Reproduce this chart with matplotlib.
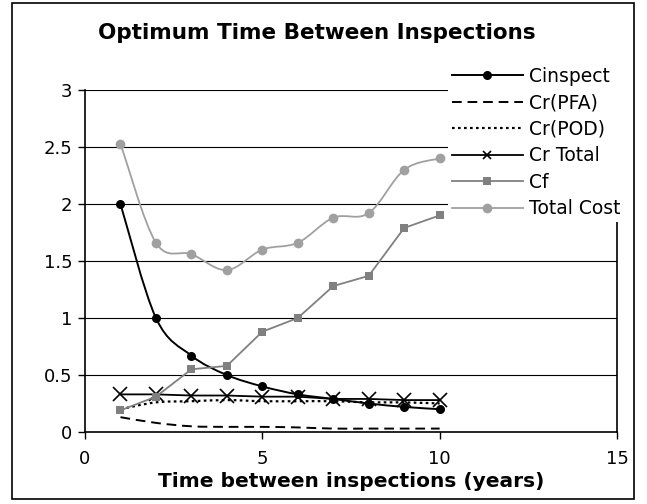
import matplotlib
matplotlib.use("Agg")
import matplotlib.pyplot as plt
import numpy as np
from matplotlib.path import Path
from matplotlib.patches import PathPatch, Rectangle
from matplotlib.lines import Line2D

# values
years = [1, 2, 3, 4, 5, 6, 7, 8, 9, 10]
c_inspect = [2.0, 1.0, 0.67, 0.5, 0.4, 0.33, 0.29, 0.25, 0.22, 0.2]
cr_pfa = [0.13, 0.08, 0.05, 0.045, 0.045, 0.04, 0.03, 0.03, 0.03, 0.03]
cr_pod = [0.2, 0.26, 0.27, 0.28, 0.27, 0.27, 0.27, 0.26, 0.26, 0.25]
cr_total = [0.33, 0.33, 0.32, 0.32, 0.31, 0.31, 0.29, 0.29, 0.28, 0.28]
c_f = [0.19, 0.31, 0.55, 0.58, 0.88, 1.0, 1.28, 1.37, 1.79, 1.9]
total_cost = [2.53, 1.66, 1.56, 1.42, 1.6, 1.66, 1.88, 1.92, 2.3, 2.4]

FONT = "DejaVu Sans"


def smooth_path(x, y, smooth=True):
    # Excel-style smoothed line: cubic bezier through the points
    pts = np.column_stack([x, y]).astype(float)
    if not smooth:
        return Path(pts)
    ext = np.vstack([pts[0], pts, pts[-1]])
    verts = [pts[0]]
    codes = [Path.MOVETO]
    for i in range(len(pts) - 1):
        p0, p1, p2, p3 = ext[i], ext[i + 1], ext[i + 2], ext[i + 3]
        verts += [p1 + (p2 - p0) / 6.0, p2 - (p3 - p1) / 6.0, p2]
        codes += [Path.CURVE4] * 3
    return Path(verts, codes)


fig = plt.figure(figsize=(6.47, 5.04), dpi=100)
ax = fig.add_axes([85 / 647, 72 / 504, 532 / 647, 342 / 504])

# name, values, smoothed, style, legend marker size
series = [
    ("Cinspect", c_inspect, True, dict(color="black", ls="-", lw=1.4, marker="o", ms=6.5, mew=0), 6.5),
    ("Cr(PFA)", cr_pfa, True, dict(color="black", ls=(0, (5, 3)), lw=1.4, marker=None, ms=0, mew=0), 0),
    ("Cr(POD)", cr_pod, True, dict(color="black", ls=(0, (1.2, 1.5)), lw=1.6, marker=None, ms=0, mew=0), 0),
    ("Cr Total", cr_total, False, dict(color="black", ls="-", lw=1.3, marker="x", ms=10, mew=1.2), 6),
    ("Cf", c_f, False, dict(color="#808080", ls="-", lw=1.3, marker="s", ms=6, mew=0), 6),
    ("Total Cost", total_cost, True, dict(color="#a0a0a0", ls="-", lw=1.3, marker="o", ms=7, mew=0), 7),
]

handles = []
for z, (name, vals, smooth, st, leg_ms) in enumerate(series):
    patch = PathPatch(smooth_path(years, vals, smooth), fill=False, edgecolor=st["color"],
                      linestyle=st["ls"], linewidth=st["lw"], zorder=3 + z,
                      capstyle="butt", joinstyle="round")
    ax.add_patch(patch)
    if st["marker"]:
        ax.plot(years, vals, linestyle="none", marker=st["marker"], ms=st["ms"],
                color=st["color"], mew=st["mew"], zorder=3 + z)
    handles.append(Line2D([], [], color=st["color"], ls=st["ls"], lw=st["lw"],
                          marker=st["marker"], ms=leg_ms, mew=st["mew"]))

ax.set_xlim(0, 15)
ax.set_ylim(0, 3)
ax.set_xticks([0, 5, 10, 15])
ax.set_yticks([0, 0.5, 1, 1.5, 2, 2.5, 3])
ax.set_yticklabels(["0", "0.5", "1", "1.5", "2", "2.5", "3"])
for v in [0.5, 1, 1.5, 2, 2.5, 3]:
    ax.axhline(v, color="black", lw=0.8, zorder=1)

ax.spines["top"].set_visible(False)
for s in ["left", "bottom", "right"]:
    ax.spines[s].set_linewidth(1.2)
ax.tick_params(direction="out", length=5, width=1, labelsize=13, pad=4)
ax.tick_params(axis="x", pad=8)
for lab in ax.get_xticklabels() + ax.get_yticklabels():
    lab.set_family(FONT)

ax.set_xlabel("Time between inspections (years)", fontsize=14.5, fontweight="bold",
              family=FONT, labelpad=3)
fig.text(0.49, 1 - 33 / 504, "Optimum Time Between Inspections", ha="center",
         va="center", fontsize=15.5, fontweight="bold", family=FONT)

leg = fig.legend(handles, [s[0] for s in series], loc="upper left",
                 bbox_to_anchor=(448 / 647, 1 - 63 / 504), frameon=True,
                 fancybox=False, edgecolor="none", facecolor="white", framealpha=1,
                 handlelength=3.8, handletextpad=0.3, labelspacing=0.4,
                 borderpad=0.2, borderaxespad=0, prop={"family": FONT, "size": 13.5})

fig.patches.append(Rectangle((12 / 647, 5 / 504), 622 / 647, 496 / 504,
                             transform=fig.transFigure, fill=False,
                             edgecolor="black", lw=1.2))

fig.savefig("out.png", dpi=100, facecolor="white")
